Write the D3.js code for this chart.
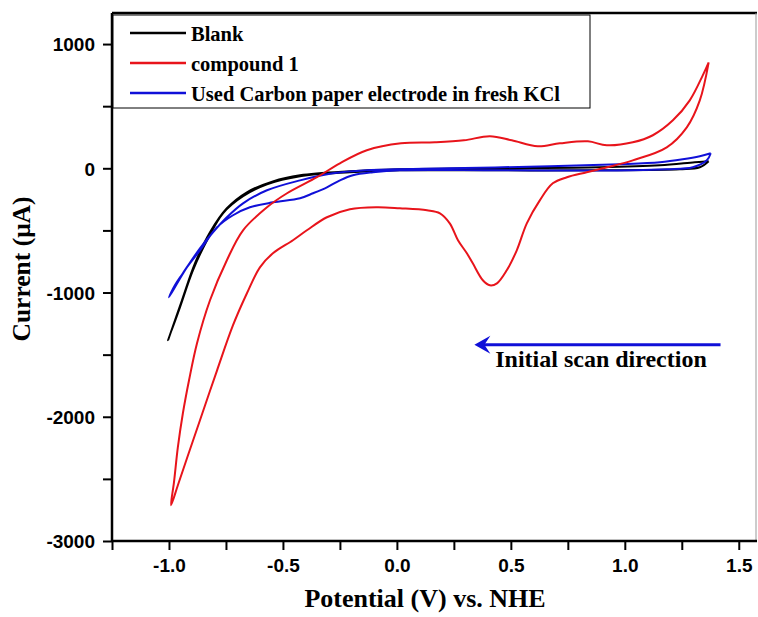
<!DOCTYPE html>
<html>
<head>
<meta charset="utf-8">
<script src="https://cdn.jsdelivr.net/npm/d3@7"></script>
<style>
  html, body { margin: 0; padding: 0; background: #fff; }
  svg { display: block; }
</style>
</head>
<body>
<div id="chart"></div>
<script>
// ---------- DATA ----------
const seriesNames = ["Blank", "compound 1", "Used Carbon paper electrode in fresh KCl"];
const seriesColors = ["#000000", "#e8141b", "#1010d8"];

// Blank: potential (V) and current (µA), one loop, scan order
const blankE = [1.368, 1.329, 1.241, 0.890, 0.232, 0.013, -0.206, -0.425, -0.570, -0.675, -0.763, -0.833, -0.895, -0.952, -1.004,
                -0.943, -0.886, -0.820, -0.746, -0.658, -0.544, -0.425, -0.206, 0.013, 0.452, 0.890, 1.154, 1.307, 1.368];
const blankI = [56, 8, -8, -16, -16, -16, -32, -64, -129, -225, -362, -579, -821, -1119, -1384,
                -1062, -765, -515, -322, -193, -105, -56, -24, -8, 0, 8, 24, 48, 56];

// compound 1
const compE = [1.368, 1.329, 1.272, 1.184, 1.035, 0.921, 0.833, 0.746, 0.684, 0.627, 0.570, 0.526, 0.482, 0.439, 0.408,
               0.377, 0.333, 0.307, 0.268, 0.232, 0.189, 0.132, 0.013, -0.088, -0.206, -0.307, -0.395, -0.456, -0.544,
               -0.601, -0.658, -0.719, -0.789, -0.864, -0.921, -0.961, -0.991,
               -0.978, -0.961, -0.939, -0.912,
               -0.877, -0.820, -0.746, -0.675, -0.570, -0.482, -0.351, -0.250, -0.132, 0.018, 0.167, 0.294, 0.408,
               0.504, 0.618, 0.715, 0.838, 0.921, 1.035, 1.123, 1.211, 1.285, 1.342, 1.368];
const compI = [853, 547, 330, 169, 64, 8, -32, -72, -121, -258, -443, -660, -821, -926, -942,
               -901, -765, -684, -579, -443, -362, -338, -322, -314, -330, -394, -499, -579, -684,
               -797, -1006, -1263, -1626, -2028, -2334, -2551, -2712,
               -2527, -2245, -1972, -1706,
               -1408, -1062, -740, -499, -314, -201, -72, 40, 145, 201, 209, 225, 258,
               225, 177, 201, 217, 185, 209, 266, 386, 547, 748, 853];

// Used carbon paper electrode in fresh KCl
const usedE = [1.377, 1.360, 1.298, 1.184, 1.035, 0.452, 0.013, -0.105, -0.193, -0.250, -0.307, -0.368, -0.425, -0.544,
               -0.645, -0.719, -0.789, -0.864, -0.921, -1.000,
               -0.974, -0.939, -0.864, -0.807, -0.746, -0.675, -0.570, -0.425, -0.281, -0.132, 0.232, 0.671, 0.978,
               1.154, 1.254, 1.329, 1.377];
const usedI = [121, 64, 8, -8, -16, -16, -16, -32, -56, -97, -153, -201, -241, -274,
               -314, -378, -475, -660, -797, -1038,
               -942, -845, -644, -515, -394, -282, -177, -97, -40, -16, 0, 16, 32,
               48, 72, 97, 121];

const yTicks = [-3000, -2500, -2000, -1500, -1000, -500, 0, 500, 1000];
const yLabels = [-3000, -2000, -1000, 0, 1000];
const xTicks = [-1.25, -1.0, -0.75, -0.5, -0.25, 0.0, 0.25, 0.5, 0.75, 1.0, 1.25, 1.5];
const xLabels = [-1.0, -0.5, 0.0, 0.5, 1.0, 1.5];

const xTitle = "Potential (V) vs. NHE";
const yTitle = "Current (\u03BCA)";
const annotation = "Initial scan direction";
const arrowE = [1.42, 0.34];   // arrow from / to (potential)
const arrowI = -1420;          // arrow current level

// ---------- DRAWING ----------
const W = 758, H = 617;
const svg = d3.select("#chart").append("svg").attr("width", W).attr("height", H);

const x = d3.scaleLinear().domain([-1.25, 1.58]).range([112, 757]);
const y = d3.scaleLinear().domain([-3000, 1250]).range([541, 13]);

const serif = "'Liberation Serif', 'Times New Roman', serif";
const sans = "'Liberation Sans', Arial, sans-serif";

// frame top & right
svg.append("line").attr("x1", x(-1.25)).attr("x2", x(1.58)).attr("y1", y(1250)).attr("y2", y(1250))
  .attr("stroke", "#000").attr("stroke-width", 2.5);
svg.append("line").attr("x1", x(1.58) - 1).attr("x2", x(1.58) - 1).attr("y1", y(1250)).attr("y2", y(-3000))
  .attr("stroke", "#999").attr("stroke-width", 1);

// curves
const line = d3.line().x(d => x(d[0])).y(d => y(d[1])).curve(d3.curveCatmullRom.alpha(0.5));
const series = [
  { E: blankE, I: blankI, c: seriesColors[0] },
  { E: usedE, I: usedI, c: seriesColors[2] },
  { E: compE, I: compI, c: seriesColors[1] },
];
series.forEach(s => {
  const pts = s.E.map((e, i) => [e, s.I[i]]);
  svg.append("path").attr("d", line(pts)).attr("fill", "none")
    .attr("stroke", s.c).attr("stroke-width", 2).attr("stroke-linejoin", "round");
});

// axes
const yAxis = d3.axisLeft(y).tickValues(yTicks).tickSize(9).tickSizeOuter(0)
  .tickFormat(d => yLabels.includes(d) ? String(d) : "");
const gy = svg.append("g").attr("transform", `translate(${x(-1.25)},0)`).call(yAxis);
const xAxis = d3.axisBottom(x).tickValues(xTicks).tickSize(9).tickSizeOuter(0)
  .tickFormat(d => xLabels.some(v => Math.abs(v - d) < 1e-9) ? d.toFixed(1) : "");
const gx = svg.append("g").attr("transform", `translate(0,${y(-3000)})`).call(xAxis);

[gx, gy].forEach(g => {
  g.select(".domain").attr("stroke", "#000").attr("stroke-width", 2.5);
  g.selectAll(".tick line").attr("stroke", "#000").attr("stroke-width", 2);
  g.selectAll(".tick text").attr("font-family", sans).attr("font-weight", "bold")
    .attr("font-size", 19).attr("fill", "#000");
});
gy.select(".domain").attr("d", `M0,${y(1250)}V${y(-3000)}`);
gx.select(".domain").attr("d", `M${x(-1.25)},0H${x(1.58)}`);
gy.selectAll(".tick text").attr("x", -17).attr("dy", "0.36em");
gx.selectAll(".tick text").attr("y", 18);

// axis titles
svg.append("text").attr("x", 425).attr("y", 607).attr("text-anchor", "middle")
  .attr("font-family", serif).attr("font-weight", "bold").attr("font-size", 26).text(xTitle);
svg.append("text").attr("transform", "translate(30,269) rotate(-90)").attr("text-anchor", "middle")
  .attr("font-family", serif).attr("font-weight", "bold").attr("font-size", 25.5).text(yTitle);

// legend
const lg = svg.append("g");
lg.append("rect").attr("x", 113).attr("y", 15).attr("width", 477).attr("height", 93)
  .attr("fill", "#fff").attr("stroke", "#000").attr("stroke-width", 1);
seriesNames.forEach((n, i) => {
  const yy = 33 + i * 30;
  lg.append("line").attr("x1", 130).attr("x2", 186).attr("y1", yy).attr("y2", yy)
    .attr("stroke", seriesColors[i]).attr("stroke-width", 2.5);
  lg.append("text").attr("x", 191).attr("y", yy + 8).attr("font-family", serif)
    .attr("font-weight", "bold").attr("font-size", 20.5).text(n);
});

// arrow + annotation
svg.append("line").attr("x1", x(arrowE[0])).attr("x2", x(arrowE[1]) + 4)
  .attr("y1", y(arrowI)).attr("y2", y(arrowI))
  .attr("stroke", seriesColors[2]).attr("stroke-width", 3);
svg.append("path")
  .attr("d", `M${x(arrowE[1])},${y(arrowI)} L${x(arrowE[1]) + 16},${y(arrowI) - 9} L${x(arrowE[1]) + 10},${y(arrowI)} L${x(arrowE[1]) + 16},${y(arrowI) + 9} Z`)
  .attr("fill", seriesColors[2]);
svg.append("text").attr("x", 601).attr("y", 367).attr("text-anchor", "middle")
  .attr("font-family", serif).attr("font-weight", "bold").attr("font-size", 24).text(annotation);
</script>
</body>
</html>
